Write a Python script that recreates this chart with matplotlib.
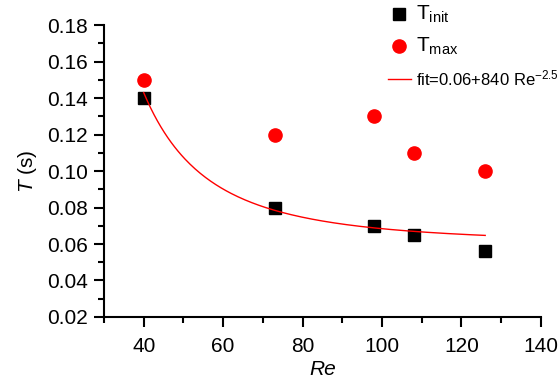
import numpy as np
import matplotlib
matplotlib.use("Agg")
import matplotlib.pyplot as plt
from matplotlib.ticker import MultipleLocator

plt.rcParams['font.family'] = ['Liberation Sans', 'DejaVu Sans']
plt.rcParams['mathtext.fontset'] = 'custom'
plt.rcParams['mathtext.rm'] = 'Liberation Sans'
plt.rcParams['mathtext.it'] = 'Liberation Sans:italic'

# measured points
re_vals = [40, 73, 98, 108, 126]
t_init = [0.14, 0.08, 0.07, 0.065, 0.056]
t_max = [0.15, 0.12, 0.13, 0.11, 0.10]

# fit parameters: T = a + b * Re^p
fit_a = 0.06
fit_b = 840
fit_p = -2.5

fig = plt.figure(figsize=(5.6, 3.87), dpi=100)
ax = fig.add_axes([0.1857, 0.181, 0.780, 0.754])

ax.plot(re_vals, t_init, 's', color='black', markersize=8.5, label=r'T$_{\rm init}$')
ax.plot(re_vals, t_max, 'o', color='red', markersize=9.5, label=r'T$_{\rm max}$')

re_fit = np.linspace(min(re_vals), max(re_vals), 200)
ax.plot(re_fit, fit_a + fit_b * re_fit ** fit_p, color='red', lw=1.0,
        label=r'fit=0.06+840 Re$^{-2.5}$')

ax.set_xlim(30, 140)
ax.set_ylim(0.02, 0.18)
ax.xaxis.set_minor_locator(MultipleLocator(10))
ax.yaxis.set_minor_locator(MultipleLocator(0.01))
ax.set_xticks([40, 60, 80, 100, 120, 140])
yt = np.arange(0.02, 0.181, 0.02)
ax.set_yticks(yt)
ax.set_yticklabels([f"{v:.2f}" for v in yt])

for s in ['top', 'right']:
    ax.spines[s].set_visible(False)
for s in ['left', 'bottom']:
    ax.spines[s].set_linewidth(1.5)

ax.tick_params(which='major', direction='out', length=7.5, width=1.5, labelsize=15, pad=4)
ax.tick_params(axis='x', which='major', pad=7)
ax.tick_params(which='minor', direction='out', length=4, width=1.5)

ax.set_xlabel('Re', fontsize=15, style='italic', labelpad=3)
ax.set_ylabel(r'$\mathit{T}$ (s)', fontsize=15, labelpad=6)

leg = ax.legend(loc='upper right', bbox_to_anchor=(1.075, 1.125), frameon=False,
                fontsize=12, handlelength=1.35, handletextpad=0.3, labelspacing=0.66)
for t in leg.get_texts()[:2]:
    t.set_fontsize(15)

fig.savefig('out.png', dpi=100)
